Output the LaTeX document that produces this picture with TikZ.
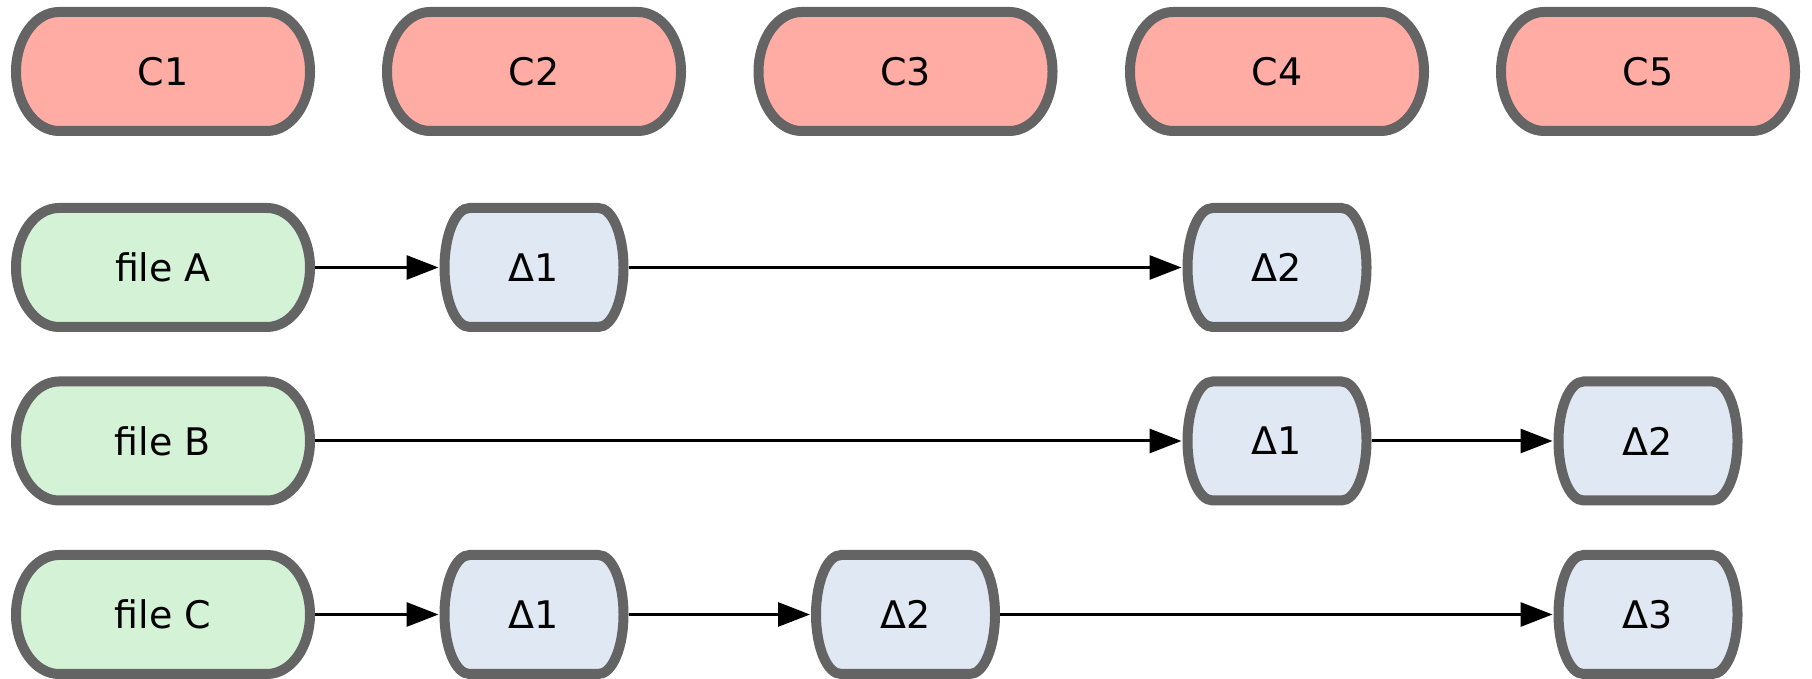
\documentclass[tikz,border=0pt]{standalone}
\usepackage{fontspec}
\setmainfont{DejaVu Sans}
\usetikzlibrary{arrows.meta,backgrounds,calc}
\definecolor{bordc}{HTML}{646464}
\definecolor{cfill}{HTML}{FFACA5}
\definecolor{ffill}{HTML}{D4F3D6}
\definecolor{dfill}{HTML}{E0E8F3}
\tikzset{
  wide/.style={minimum width=294pt, minimum height=119pt, inner sep=0pt, outer sep=0pt,
    font=\fontsize{38}{40}\selectfont},
  narrow/.style={wide, minimum width=179pt},
  capsule/.style={draw=bordc, line width=10pt},
  link/.style={line width=3pt, -{Triangle[length=32pt,width=24pt]}, shorten <=5pt, shorten >=6pt},
}
\begin{document}
\begin{tikzpicture}[x=1pt,y=1pt]
\useasboundingbox (0,0) rectangle (1812,679);
% commits
\node[wide] (c1) at (163,607.5) {C1};
\node[wide] (c2) at (534,607.5) {C2};
\node[wide] (c3) at (905.5,607.5) {C3};
\node[wide] (c4) at (1277,607.5) {C4};
\node[wide] (c5) at (1648,607.5) {C5};
% files
\node[wide] (fa) at (163,411.5) {file A};
\node[wide] (fb) at (163,238) {file B};
\node[wide] (fc) at (163,64.5) {file C};
% deltas
\node[narrow] (a1) at (534,411.5) {Δ1};
\node[narrow] (a2) at (1277,411.5) {Δ2};
\node[narrow] (b1) at (1277,238) {Δ1};
\node[narrow] (b2) at (1648,238) {Δ2};
\node[narrow] (d1) at (534,64.5) {Δ1};
\node[narrow] (d2) at (905.5,64.5) {Δ2};
\node[narrow] (d3) at (1648,64.5) {Δ3};
\begin{scope}[on background layer]
\foreach \n/\r/\f in {c1/43/cfill,c2/43/cfill,c3/43/cfill,c4/43/cfill,c5/43/cfill,
  fa/43/ffill,fb/43/ffill,fc/43/ffill,
  a1/25/dfill,a2/25/dfill,b1/25/dfill,b2/25/dfill,d1/25/dfill,d2/25/dfill,d3/25/dfill}{
  \draw[capsule, fill=\f] ($(\n.north west)+(\r,0)$) -- ($(\n.north east)+(-\r,0)$)
    arc[start angle=90, end angle=-90, x radius=\r, y radius=59.5]
    -- ($(\n.south west)+(\r,0)$)
    arc[start angle=270, end angle=90, x radius=\r, y radius=59.5] -- cycle;
}
\end{scope}
% links
\draw[link] (fa.east) -- (a1.west);
\draw[link] (a1.east) -- (a2.west);
\draw[link] (fb.east) -- (b1.west);
\draw[link] (b1.east) -- (b2.west);
\draw[link] (fc.east) -- (d1.west);
\draw[link] (d1.east) -- (d2.west);
\draw[link] (d2.east) -- (d3.west);
\end{tikzpicture}
\end{document}
